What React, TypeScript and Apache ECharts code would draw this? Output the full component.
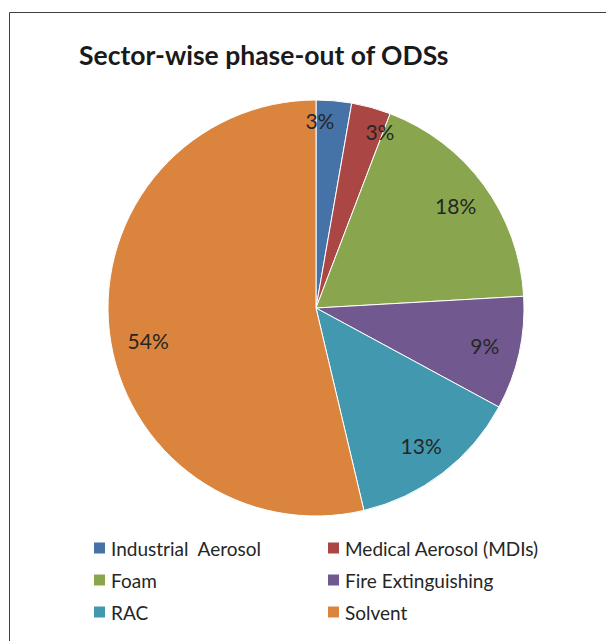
import React, { useEffect, useRef } from "react";
import * as echarts from "echarts";

const titleText = "Sector-wise phase-out of ODSs";
const categories = [
  "Industrial  Aerosol",
  "Medical Aerosol (MDIs)",
  "Foam",
  "Fire Extinguishing",
  "RAC",
  "Solvent",
];
const values = [2.75, 3.05, 18.3, 8.8, 13.4, 53.7];
const colors = ["#4572A7", "#AA4643", "#89A54E", "#71588F", "#4198AF", "#DB843D"];
const leftLegend = [categories[0], categories[2], categories[4]];
const rightLegend = [categories[1], categories[3], categories[5]];

const FONT = "Lato, 'Open Sans', sans-serif";

export default function App() {
  const ref = useRef<HTMLDivElement>(null);
  useEffect(() => {
    if (!ref.current) return;
    const chart = echarts.init(ref.current, undefined, { renderer: "svg" });
    const data = categories.map((name, i) => ({
      name,
      value: values[i],
      itemStyle: { color: colors[i] },
    }));
    const labelShift: Record<number, { dx: number; dy: number }> = {
      0: { dx: -11, dy: -15 },
      1: { dx: 18, dy: -10 },
      5: { dx: 4, dy: 12 },
    };
    const legendBase = {
      orient: "vertical",
      top: 533,
      itemWidth: 13,
      itemHeight: 13,
      itemGap: 12,
      icon: "rect",
      selectedMode: false,
      textStyle: { fontFamily: FONT, fontSize: 19, color: "#262626", lineHeight: 20 },
    };
    chart.setOption({
      animation: false,
      backgroundColor: "#ffffff",
      title: {
        text: titleText,
        left: 74,
        top: 36,
        textStyle: { fontFamily: FONT, fontSize: 26.5, fontWeight: "bold", color: "#1a1a1a" },
      },
      legend: [
        { ...legendBase, data: leftLegend, left: 87 },
        { ...legendBase, data: rightLegend, left: 321 },
      ],
      graphic: [
        {
          type: "rect",
          shape: { x: 9.5, y: 12.5, width: 800, height: 800 },
          style: { fill: "none", stroke: "#404040", lineWidth: 1 },
          silent: true,
        },
      ],
      series: [
        {
          type: "pie",
          center: [316, 308],
          radius: [0, 208],
          startAngle: 90,
          data,
          label: { show: false },
          labelLine: { show: false },
          itemStyle: { borderColor: "#ffffff", borderWidth: 1 },
          silent: true,
        },
        {
          type: "pie",
          center: [316, 308],
          radius: [132, 208],
          startAngle: 90,
          data: categories.map((name, i) => ({ name, value: values[i] })),
          itemStyle: { color: "rgba(0,0,0,0)" },
          label: {
            show: true,
            position: "inside",
            formatter: (p: any) => Math.round(p.percent) + "%",
            fontFamily: FONT,
            fontSize: 21,
            color: "#262626",
          },
          labelLine: { show: false },
          labelLayout: (p: any) => labelShift[p.dataIndex] || {},
          silent: true,
          legendHoverLink: false,
        },
      ],
    });
    return () => chart.dispose();
  }, []);
  return (
    <div
      ref={ref}
      style={{ position: "fixed", left: 0, top: 0, width: 606, height: 641 }}
    />
  );
}
